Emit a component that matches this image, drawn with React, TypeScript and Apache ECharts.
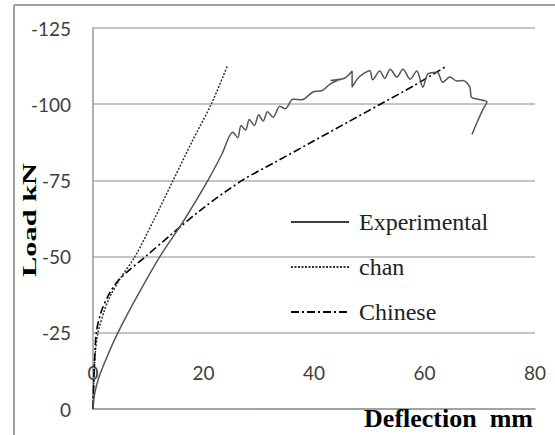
import React, { useEffect, useRef } from "react";
import * as echarts from "echarts";

const xTicks = [0, 20, 40, 60, 80];
const yTicks = [-125, -100, -75, -50, -25, 0];

const expDefl = [0, 0.3, 1, 2.5, 4.5, 8, 12.1, 16.5, 20.8, 23.3, 25.3, 26.2, 26.8, 27.6, 28.3, 29.2, 30, 30.8, 31.6, 32.6, 33.8, 34.8, 36.2, 37.8, 39.8, 41.5, 42.9, 44.7, 43, 45.5, 46.9, 46.9, 48.2, 50.1, 50.6, 51.9, 52.8, 53.8, 55, 56.1, 57.4, 58.6, 59.7, 60.6, 62.3, 63.3, 64.6, 65.9, 67, 68.2, 68.5, 69.7, 71.3, 70.6, 69.5, 68.6];
const expLoad = [0, -5, -10, -17, -25, -37, -50, -62, -75, -83.5, -90.8, -89, -93, -91.5, -95, -93, -96.5, -94.5, -97.5, -95.7, -99.3, -98.5, -101.6, -101.5, -104, -104.5, -106.6, -108.2, -107.8, -108.5, -110.9, -105.6, -109, -111, -108, -110.9, -108.5, -111.5, -108.9, -111.5, -108.2, -110.9, -105.6, -109.9, -110.5, -107.2, -108.9, -107.6, -107.8, -105.6, -102.3, -101.6, -100.7, -98.4, -94, -90.1];

const chanDefl = [0, 0.2, 0.5, 0.9, 2, 3.1, 5, 7.6, 11, 14.5, 18, 21.4, 24.3];
const chanLoad = [0, -12, -20, -25, -32, -37, -43, -50, -62, -75, -88, -100, -112.5];

const chineseDefl = [0, 0.2, 0.6, 1.5, 3, 4.5, 6.2, 9.5, 14, 20, 27, 33, 40, 46, 52, 58, 64];
const chineseLoad = [0, -12, -25, -32, -38, -42, -45, -50, -57, -66, -75, -81, -88, -94, -100, -106, -112.5];

const seriesNames = ["Experimental", "chan", "Chinese"];
const xTitle = "Deflection  mm";
const yTitle = "Load kN";

const pairs = (xs: number[], ys: number[]) => xs.map((x, i) => [x, ys[i]]);

export default function App() {
  const ref = useRef<HTMLDivElement>(null);
  useEffect(() => {
    if (!ref.current) return;
    const chart = echarts.init(ref.current, undefined, { renderer: "svg" });
    const tickFont = { fontFamily: "Lato", fontSize: 19, color: "#404040" };
    const serif = "'Liberation Serif', 'Times New Roman', serif";
    chart.setOption({
      animation: false,
      backgroundColor: "#fff",
      grid: { left: 93, right: 20, top: 28, bottom: 26, containLabel: false },
      legend: {
        orient: "vertical",
        left: 285,
        top: 205,
        itemWidth: 58,
        itemHeight: 14,
        itemGap: 21,
        itemStyle: { opacity: 0 },
        textStyle: {
          fontFamily: serif,
          fontSize: 24,
          lineHeight: 24,
          color: "#222",
          padding: [0, 0, 0, 5],
        },
        data: [
          { name: seriesNames[0], lineStyle: { color: "#000", width: 1.5 } },
          { name: seriesNames[1] },
          { name: seriesNames[2] },
        ],
      },
      xAxis: {
        type: "value",
        min: xTicks[0],
        max: xTicks[xTicks.length - 1],
        interval: 20,
        axisLine: { show: true, onZero: false, lineStyle: { color: "#999", width: 1.5 } },
        axisTick: { show: false },
        splitLine: { show: false },
        axisLabel: { ...tickFont, inside: true, margin: 27 },
      },
      yAxis: {
        type: "value",
        min: yTicks[0],
        max: yTicks[yTicks.length - 1],
        interval: 25,
        inverse: true,
        axisLine: { show: true, lineStyle: { color: "#999", width: 1.5 } },
        axisTick: { show: false },
        splitLine: { show: true, lineStyle: { color: "#b0b0b0", width: 1.5 } },
        axisLabel: { ...tickFont, margin: 22 },
      },
      graphic: [
        { type: "line", shape: { x1: 14, y1: 5, x2: 14, y2: 435 }, style: { stroke: "#a0a0a0", lineWidth: 2 } },
        { type: "line", shape: { x1: 14, y1: 5, x2: 555, y2: 5 }, style: { stroke: "#a0a0a0", lineWidth: 2 } },
        {
          type: "text",
          x: 29,
          y: 220,
          rotation: Math.PI / 2,
          scaleX: 1.6,
          style: {
            text: yTitle,
            font: 'bold 19px "Liberation Serif"',
            textAlign: "center",
            textVerticalAlign: "middle",
            fill: "#000",
          },
        },
        {
          type: "text",
          x: 533,
          y: 418,
          z: 10,
          style: {
            text: xTitle,
            font: 'bold 26px "Liberation Serif"',
            textAlign: "right",
            textVerticalAlign: "middle",
            fill: "#000",
          },
        },
      ],
      series: [
        {
          name: seriesNames[0],
          type: "line",
          data: pairs(expDefl, expLoad),
          symbol: "none",
          smooth: 0.3,
          lineStyle: { color: "#555", width: 1.5 },
          itemStyle: { color: "#555" },
          z: 3,
        },
        {
          name: seriesNames[1],
          type: "line",
          data: pairs(chanDefl, chanLoad),
          symbol: "none",
          smooth: 0.3,
          lineStyle: { color: "#333", width: 1.5, type: [2, 1.5] },
          itemStyle: { color: "#333" },
          z: 2,
        },
        {
          name: seriesNames[2],
          type: "line",
          data: pairs(chineseDefl, chineseLoad),
          symbol: "none",
          smooth: 0.3,
          lineStyle: { color: "#000", width: 1.6, type: [8, 3, 2, 3] },
          itemStyle: { color: "#000" },
          z: 2,
        },
      ],
    });
    return () => chart.dispose();
  }, []);
  return (
    <div
      ref={ref}
      style={{ position: "fixed", left: 0, top: 0, width: 555, height: 435 }}
    />
  );
}
